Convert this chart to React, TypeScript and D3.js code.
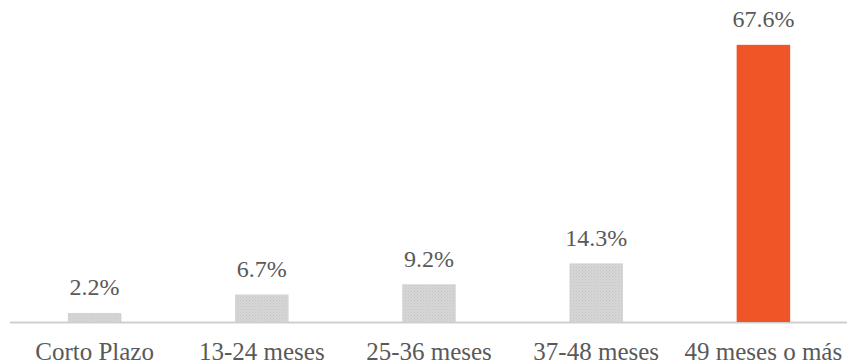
import React from "react";
import * as d3 from "d3";

const categories = ["Corto Plazo", "13-24 meses", "25-36 meses", "37-48 meses", "49 meses o más"];
const values = [2.2, 6.7, 9.2, 14.3, 67.6];
const highlight = [false, false, false, false, true];

const W = 847;
const H = 364;

export default function App() {
  const x = d3.scaleBand<string>().domain(categories).range([11, 847]).paddingInner(0.68).paddingOuter(0.34);
  const y = d3.scaleLinear().domain([0, 70]).range([322, 35]);
  const font = "'Liberation Serif', 'Times New Roman', serif";
  return (
    <svg width={W} height={H} style={{ position: "absolute", left: 0, top: 0, background: "#fff" }}>
      <defs>
        <pattern id="dots" width="3" height="3" patternUnits="userSpaceOnUse">
          <rect width="3" height="3" fill="#d6d6d6" />
          <rect x="0" y="0" width="1" height="1" fill="#c4c4c4" />
          <rect x="1.5" y="1.5" width="1" height="1" fill="#cbcbcb" />
        </pattern>
      </defs>
      <line x1={10} x2={847} y1={y(0) + 0.5} y2={y(0) + 0.5} stroke="#cfcfcf" strokeWidth={2} />
      {categories.map((c, i) => {
        const v = values[i];
        const bx = x(c)!;
        const bw = x.bandwidth();
        return (
          <g key={c}>
            <rect x={bx} y={y(v)} width={bw} height={y(0) - y(v)} fill={highlight[i] ? "#EF5526" : "url(#dots)"} />
            <text x={bx + bw / 2} y={y(v) - 17.5} textAnchor="middle" fontFamily={font} fontSize={24} fill="#595959">
              {v.toFixed(1) + "%"}
            </text>
            <text x={bx + bw / 2} y={360} textAnchor="middle" fontFamily={font} fontSize={25} fill="#595959">
              {c}
            </text>
          </g>
        );
      })}
    </svg>
  );
}
